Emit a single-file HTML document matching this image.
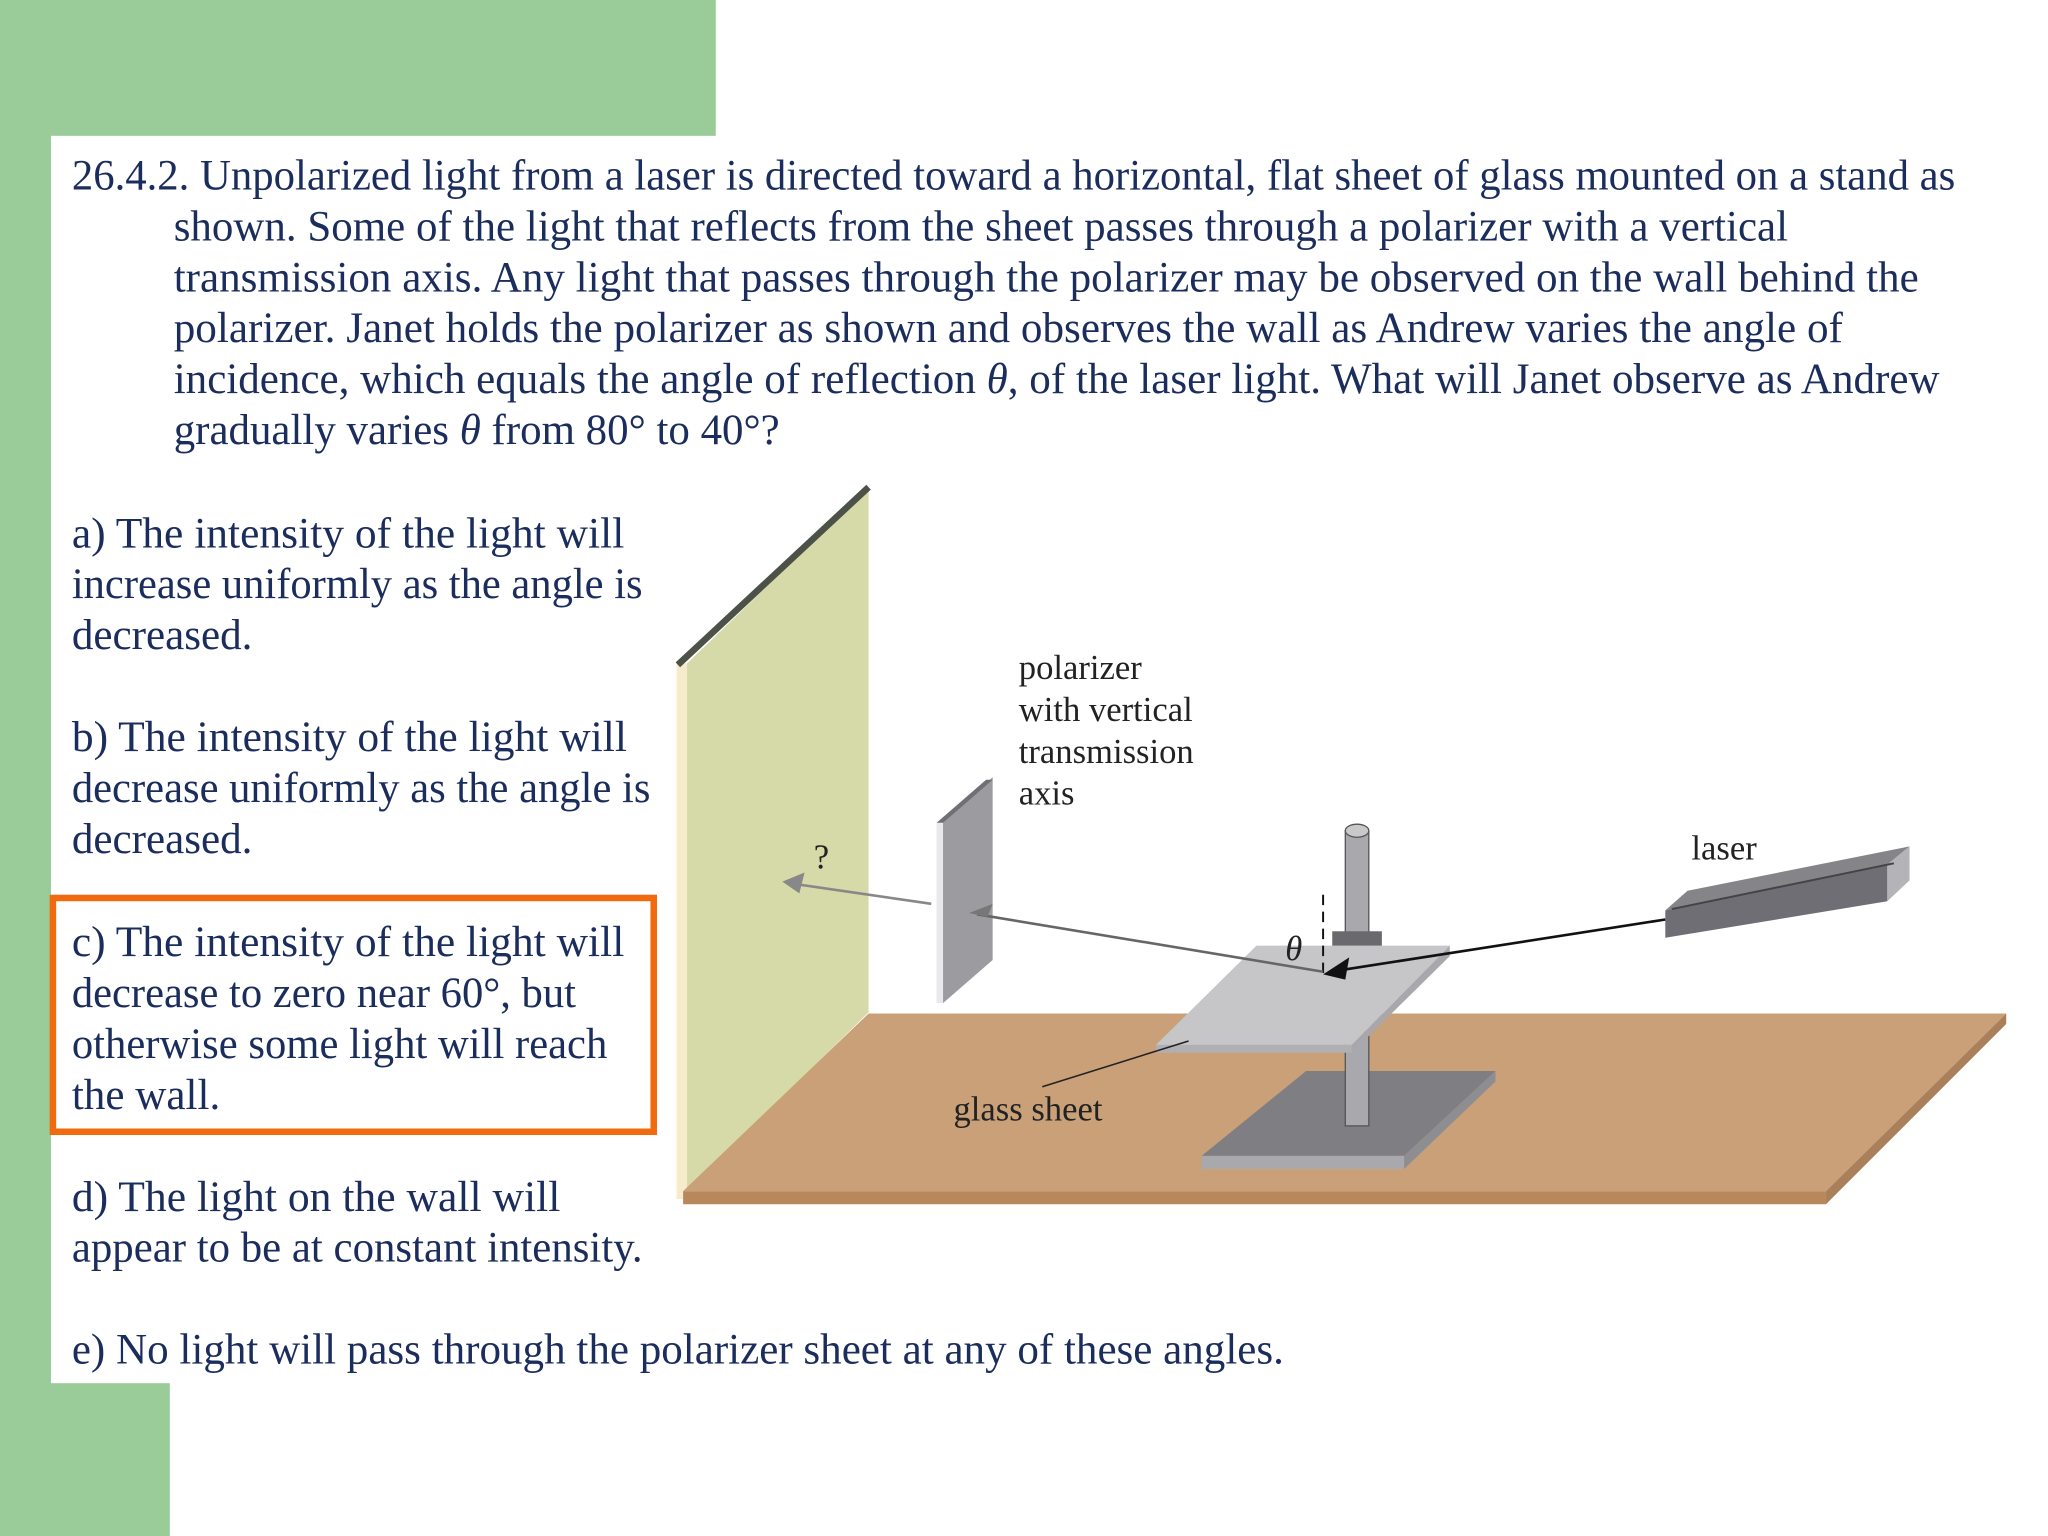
<!DOCTYPE html>
<html><head><meta charset="utf-8"><style>
html,body{margin:0;padding:0;background:#fff;}
svg{display:block;}
.t{font-family:"Liberation Serif",serif;font-size:33px;fill:#1b2d5c;}
.d{font-family:"Liberation Serif",serif;font-size:26.5px;fill:#222;}
</style></head><body>
<svg width="2048" height="1536" viewBox="0 0 1568 1176" xmlns="http://www.w3.org/2000/svg">
<rect x="0" y="0" width="1568" height="1176" fill="#fff"/>
<rect x="0" y="0" width="548" height="104" fill="#99cc99"/>
<rect x="0" y="0" width="39" height="1176" fill="#99cc99"/>
<rect x="0" y="1059" width="130" height="117" fill="#99cc99"/>

<text class="t" x="55" y="145" textLength="1442" lengthAdjust="spacingAndGlyphs">26.4.2. Unpolarized light from a laser is directed toward a horizontal, flat sheet of glass mounted on a stand as</text>
<text class="t" x="133" y="184" textLength="1236" lengthAdjust="spacingAndGlyphs">shown.  Some of the light that reflects from the sheet passes through a polarizer with a vertical</text>
<text class="t" x="133" y="223" textLength="1336" lengthAdjust="spacingAndGlyphs">transmission axis.  Any light that passes through the polarizer may be observed on the wall behind the</text>
<text class="t" x="133" y="262" textLength="1278" lengthAdjust="spacingAndGlyphs">polarizer.  Janet holds the polarizer as shown and observes the wall as Andrew varies the angle of</text>
<text class="t" x="133" y="301" textLength="1352" lengthAdjust="spacingAndGlyphs">incidence, which equals the angle of reflection <tspan font-style="italic">θ</tspan>, of the laser light.  What will Janet observe as Andrew</text>
<text class="t" x="133" y="340" textLength="464" lengthAdjust="spacingAndGlyphs">gradually varies <tspan font-style="italic">θ</tspan> from 80° to 40°?</text>

<text class="t" x="55" y="419" textLength="423" lengthAdjust="spacingAndGlyphs">a)  The intensity of the light will</text>
<text class="t" x="55" y="458" textLength="437" lengthAdjust="spacingAndGlyphs">increase uniformly as the angle is</text>
<text class="t" x="55" y="497">decreased.</text>
<text class="t" x="55" y="575" textLength="425" lengthAdjust="spacingAndGlyphs">b)  The intensity of the light will</text>
<text class="t" x="55" y="614" textLength="443" lengthAdjust="spacingAndGlyphs">decrease uniformly as the angle is</text>
<text class="t" x="55" y="653">decreased.</text>
<rect x="40.5" y="687.5" width="460" height="179" fill="none" stroke="#f26a0f" stroke-width="5"/>
<text class="t" x="55" y="732" textLength="423" lengthAdjust="spacingAndGlyphs">c)  The intensity of the light will</text>
<text class="t" x="55" y="771" textLength="386" lengthAdjust="spacingAndGlyphs">decrease to zero near 60°, but</text>
<text class="t" x="55" y="810" textLength="410" lengthAdjust="spacingAndGlyphs">otherwise some light will reach</text>
<text class="t" x="55" y="849">the wall.</text>
<text class="t" x="55" y="927" textLength="374" lengthAdjust="spacingAndGlyphs">d)  The light on the wall will</text>
<text class="t" x="55" y="966" textLength="437" lengthAdjust="spacingAndGlyphs">appear to be at constant intensity.</text>
<text class="t" x="55" y="1044" textLength="928" lengthAdjust="spacingAndGlyphs">e)  No light will pass through the polarizer sheet at any of these angles.</text>

<!-- wall -->
<polygon points="526,508 665,374 665,775 526,912" fill="#d6d9a8"/>
<rect x="518" y="508" width="8" height="410" fill="#f6eccc"/>
<line x1="519" y1="509" x2="665" y2="373" stroke="#4c5248" stroke-width="5"/>
<!-- floor -->
<polygon points="523,912 665,776 1536,776 1398,912" fill="#c9a077"/>
<rect x="523" y="912" width="875" height="10" fill="#b8875c"/>
<polygon points="1398,912 1536,776 1536,784 1398,922" fill="#a9805a"/>
<!-- stand base -->
<polygon points="920,885 1000,820 1145,820 1075,885" fill="#7e7e83"/>
<rect x="920" y="885" width="155" height="10" fill="#a9a9ad"/>
<polygon points="1075,885 1145,820 1145,828 1075,895" fill="#8e8e92"/>
<rect x="1030" y="790" width="18" height="72" fill="#a9a9ad" stroke="#555" stroke-width="1"/>
<!-- glass sheet -->
<polygon points="885,800 962,724 1110,724 1035,800" fill="#c6c6c9"/>
<polygon points="885,800 1035,800 1035,806 885,806" fill="#b0b0b4"/>
<polygon points="1035,800 1110,724 1110,732 1035,806" fill="#a8a8ac"/>
<rect x="1030" y="636" width="18" height="78" fill="#a9a9ad" stroke="#555" stroke-width="1"/>
<ellipse cx="1039" cy="636" rx="9" ry="5" fill="#c9c9cc" stroke="#555" stroke-width="1"/>
<rect x="1020" y="713" width="38" height="11" fill="#6a6a6e"/>
<!-- polarizer -->
<polygon points="722,630 760,595 760,735 722,768" fill="#9b9ba0"/>
<polygon points="717,630 755,597 760,597 722,630" fill="#6f6f74"/>
<rect x="717" y="630" width="5" height="138" fill="#e9e9ec"/>
<!-- laser -->
<polygon points="1275,697 1445,662 1445,690 1275,718" fill="#6e6e74"/>
<polygon points="1275,697 1292,682 1462,648 1445,662" fill="#858589"/>
<polygon points="1445,662 1462,648 1462,674 1445,690" fill="#b4b4b8"/>
<line x1="1280" y1="696" x2="1450" y2="661" stroke="#444" stroke-width="1.5"/>
<!-- rays -->
<line x1="1275" y1="704" x2="1025" y2="743" stroke="#111" stroke-width="2"/>
<polygon points="1013,746 1033,733 1030,750" fill="#111"/>
<line x1="1013" y1="685" x2="1013" y2="746" stroke="#111" stroke-width="1.5" stroke-dasharray="8,5"/>
<line x1="1013" y1="744" x2="748" y2="700" stroke="#666" stroke-width="2"/>
<polygon points="742,699 760,692 756,702" fill="#777"/>
<line x1="713" y1="692" x2="610" y2="677" stroke="#888" stroke-width="2"/>
<polygon points="599,675 616,668 612,684" fill="#888"/>
<line x1="798" y1="832" x2="910" y2="797" stroke="#222" stroke-width="1.2"/>

<text class="d" x="780" y="520">polarizer</text>
<text class="d" x="780" y="552">with vertical</text>
<text class="d" x="780" y="584">transmission</text>
<text class="d" x="780" y="616">axis</text>
<text class="d" x="1295" y="658">laser</text>
<text class="d" x="730" y="858">glass sheet</text>
<text class="d" x="623" y="665">?</text>
<text class="d" x="984" y="735" font-style="italic">θ</text>
</svg>
</body></html>
